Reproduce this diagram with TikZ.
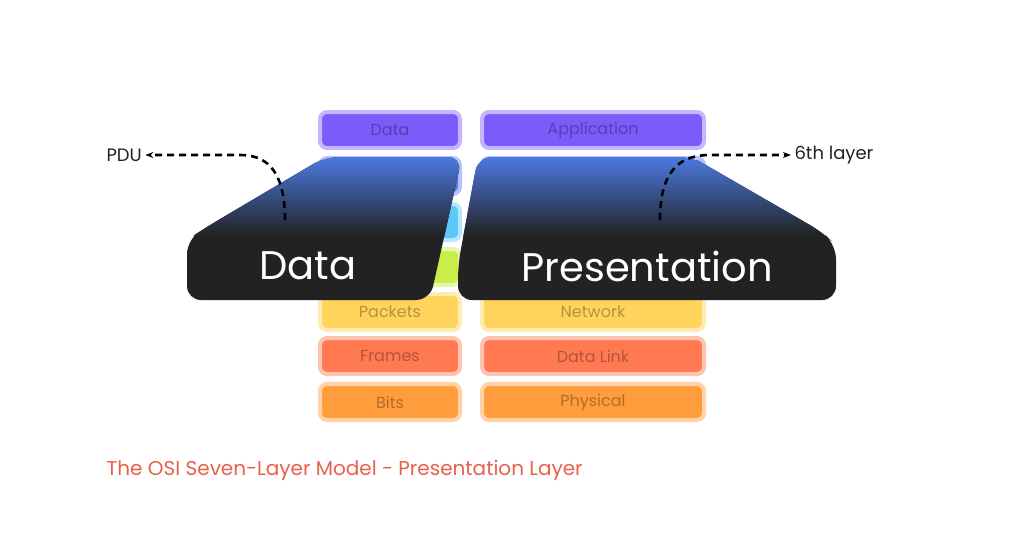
\documentclass[tikz,border=0pt]{standalone}
\usepackage{fontspec}
\setmainfont{Poppins}
\usetikzlibrary{arrows.meta,positioning}
\definecolor{rowpurple}{HTML}{7B5CFA}
\definecolor{rowblue}{HTML}{5A7CF2}
\definecolor{rowcyan}{HTML}{5BC8F8}
\definecolor{rowlime}{HTML}{C8EE48}
\definecolor{rowyellow}{HTML}{FFD35C}
\definecolor{rowred}{HTML}{FF7A52}
\definecolor{roworange}{HTML}{FF9C3C}
\definecolor{lensblue}{HTML}{4F80F2}
\definecolor{lensdark}{HTML}{222222}
\definecolor{captionred}{HTML}{E8604C}
\tikzset{
  layer/.style={rounded corners=7pt, minimum height=36pt, inner sep=0pt,
    font=\fontsize{16}{16}\selectfont, text opacity=0.3,
    draw=#1!45, line width=4pt, fill=#1},
  leftlayer/.style={layer=#1, minimum width=140pt},
  rightlayer/.style={layer=#1, minimum width=222pt},
  lens/.style={rounded corners=14pt},
  fade/.style={top color=lensblue, bottom color=lensdark},
  pointer/.style={line width=2.6pt, dash pattern=on 7pt off 5pt, -{Stealth[length=8pt]}},
  tag/.style={font=\fontsize{18}{18}\selectfont, text=lensdark}
}
\begin{document}
\begin{tikzpicture}[x=1pt, y=-1pt]
  \useasboundingbox (0,0) rectangle (1024,536);
  % background stack
  \node[leftlayer=rowpurple] (l1) at (390,130) {Data};
  \node[rightlayer=rowpurple] (r1) at (593,130) {Application};
  \node[leftlayer=rowblue] (l2) at (390,176) {};
  \node[rightlayer=rowblue] (r2) at (593,176) {};
  \node[leftlayer=rowcyan] (l3) at (390,222) {};
  \node[rightlayer=rowcyan] (r3) at (593,222) {};
  \node[leftlayer=rowlime] (l4) at (390,267) {};
  \node[rightlayer=rowlime] (r4) at (593,267) {};
  \node[leftlayer=rowyellow] (l5) at (390,312) {Packets};
  \node[rightlayer=rowyellow] (r5) at (593,312) {Network};
  \node[leftlayer=rowred] (l6) at (390,356) {Frames};
  \node[rightlayer=rowred] (r6) at (593,356) {Data Link};
  \node[leftlayer=roworange] (l7) at (390,402) {Bits};
  \node[rightlayer=roworange] (r7) at (593,402) {Physical};

  % magnified layers
  \begin{scope}
    \clip[lens] (325,157) -- (462,157) -- (430,300) -- (187,300) -- (187,240) -- (205,228) -- cycle;
    \fill[lensdark] (180,150) rectangle (470,310);
    \shade[fade] (180,150) rectangle (470,236);
  \end{scope}
  \begin{scope}
    \clip[lens] (478,157) -- (692,157) -- (822,232) -- (836,245) -- (836,300) -- (458,300) -- (458,265) -- cycle;
    \fill[lensdark] (450,150) rectangle (840,310);
    \shade[fade] (450,150) rectangle (840,236);
  \end{scope}
  \node[text=white, font=\fontsize{40}{40}\selectfont] (data) at (308,266) {Data};
  \node[text=white, font=\fontsize{40}{40}\selectfont] (pres) at (647,266) {Presentation};

  % pointers
  \coordinate (dfoot) at (285,220);
  \coordinate (pfoot) at (660,220);
  \node[tag, anchor=west] (pdu) at (103,155) {PDU};
  \node[tag, anchor=west] (sixth) at (791,155) {6th layer};
  \draw[pointer] (dfoot) .. controls (285,165) and (262,155) .. (240,155) -- (pdu.east);
  \draw[pointer] (pfoot) .. controls (660,168) and (682,155) .. (710,155) -- (sixth.west);

  \node[anchor=west, text=captionred, font=\fontsize{20}{20}\selectfont] (caption) at (103,470) {The OSI Seven-Layer Model - Presentation Layer};
\end{tikzpicture}
\end{document}
